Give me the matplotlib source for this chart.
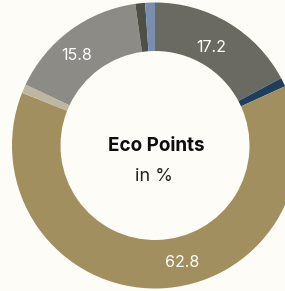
import matplotlib.pyplot as plt
import numpy as np

# --- data ---
labels = ["17.2", "", "62.8", "", "15.8", "", ""]
shares = [17.2, 1.0, 62.8, 1.0, 15.8, 1.1, 1.1]
colors = ["#6b6a62", "#1f3e5e", "#a28f5f", "#bdb6a2", "#8d8b85", "#4e4f46", "#7a8fb0"]

BG = "#fdfcf7"

# pixel-ish coordinates, centre of ring at (0, 0)
R_OUT = 143
R_IN = 94.5

fig = plt.figure(figsize=(2.85, 2.91), dpi=100)
fig.set_facecolor(BG)
ax = fig.add_axes([0, 0, 1, 1])
ax.set_facecolor(BG)

wedges, _ = ax.pie(shares, colors=colors, radius=R_OUT, startangle=90,
                   counterclock=False,
                   wedgeprops=dict(width=R_OUT - R_IN, linewidth=0))

# label spots (angle from top, clockwise; radius)
label_pos = {"17.2": (30, 113), "62.8": (167, 120), "15.8": (319, 119)}
for lab in labels:
    if not lab:
        continue
    ang, r = label_pos[lab]
    a = np.deg2rad(ang)
    ax.text(r * np.sin(a), r * np.cos(a), lab, color="white", fontsize=11.5,
            family="Inter", ha="center", va="center")

ax.text(1.5, -0.5, "Eco Points", fontsize=13.6, fontweight="bold", family="Inter",
        color="#0d0d0d", ha="center", va="center")
ax.text(-1.5, -31, "in %", fontsize=13, family="Inter",
        color="#222222", ha="center", va="center")

ax.set_xlim(-155, 130)
ax.set_ylim(-145.5, 145.5)
ax.set_aspect("auto")
ax.axis("off")

fig.savefig("out.png", dpi=100, facecolor=BG)
